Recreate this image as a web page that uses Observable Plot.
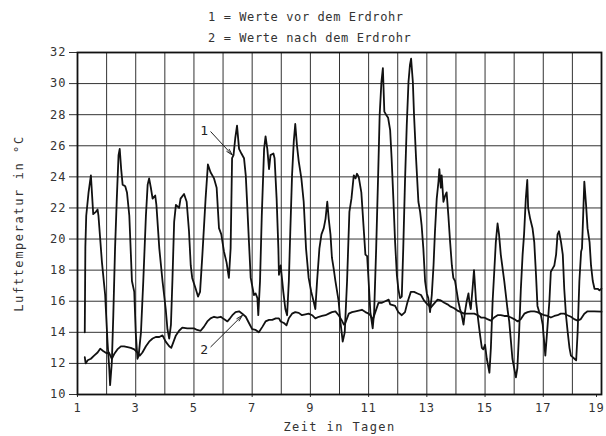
<!DOCTYPE html>
<html><head><meta charset="utf-8">
<script src="https://cdn.jsdelivr.net/npm/d3@7"></script>
<script src="https://cdn.jsdelivr.net/npm/@observablehq/plot@0.6"></script>
<style>
body{margin:0;background:#fff;}
#title{height:48px;box-sizing:border-box;padding:7px 0 0 208px;font:12px "DejaVu Sans Mono",monospace;line-height:21px;letter-spacing:0.6px;color:#333;white-space:pre;}
#chart svg [aria-label="y-axis label"] text{letter-spacing:1.6px;}
#chart svg [aria-label="x-axis label"] text{letter-spacing:1.4px;}
#chart svg [aria-label="y-axis tick label"] text,#chart svg [aria-label="x-axis tick label"] text{letter-spacing:1px;}
</style></head><body>
<div id="title"><div>1 = Werte vor dem Erdrohr</div><div>2 = Werte nach dem Erdrohr</div></div>
<div id="chart"></div>
<script>
// Series 1: Werte vor dem Erdrohr
const days1 = [1.25,1.27,1.30,1.38,1.46,1.54,1.63,1.69,1.72,1.84,1.95,2.03,2.09,2.12,2.18,2.23,2.29,2.35,2.41,2.45,2.50,2.55,2.64,2.70,2.78,2.87,2.95,3.00,3.06,3.10,3.18,3.26,3.35,3.41,3.46,3.52,3.58,3.67,3.71,3.81,3.92,4.03,4.09,4.15,4.21,4.26,4.32,4.38,4.49,4.54,4.66,4.75,4.83,4.89,4.94,5.06,5.14,5.21,5.29,5.40,5.48,5.57,5.69,5.78,5.86,5.94,6.03,6.12,6.20,6.26,6.31,6.36,6.42,6.48,6.55,6.63,6.72,6.78,6.83,6.89,6.95,7.00,7.06,7.12,7.18,7.21,7.27,7.33,7.41,7.46,7.52,7.58,7.63,7.73,7.77,7.84,7.90,7.92,7.98,8.07,8.14,8.20,8.26,8.31,8.37,8.43,8.48,8.54,8.60,8.69,8.77,8.85,8.94,9.03,9.11,9.17,9.23,9.31,9.38,9.46,9.52,9.58,9.63,9.69,9.74,9.80,9.86,9.97,10.03,10.11,10.18,10.26,10.34,10.41,10.49,10.55,10.60,10.66,10.75,10.83,10.89,10.95,11.00,11.06,11.14,11.19,11.26,11.33,11.38,11.44,11.49,11.54,11.60,11.67,11.74,11.79,11.85,11.91,11.97,12.02,12.08,12.14,12.19,12.25,12.31,12.37,12.42,12.46,12.52,12.56,12.63,12.71,12.77,12.82,12.88,12.94,13.00,13.05,13.11,13.17,13.23,13.28,13.34,13.40,13.43,13.48,13.51,13.57,13.63,13.68,13.74,13.80,13.86,13.91,13.97,14.03,14.08,14.14,14.20,14.26,14.31,14.37,14.43,14.46,14.51,14.57,14.62,14.69,14.77,14.83,14.89,14.94,15.00,15.06,15.12,15.15,15.20,15.26,15.31,15.37,15.43,15.48,15.54,15.66,15.77,15.83,15.89,15.94,16.00,16.06,16.11,16.17,16.23,16.29,16.34,16.40,16.45,16.48,16.55,16.63,16.69,16.75,16.80,16.86,16.92,16.98,17.03,17.07,17.13,17.21,17.26,17.32,17.38,17.44,17.49,17.54,17.61,17.67,17.72,17.78,17.84,17.90,17.95,18.01,18.07,18.13,18.18,18.24,18.30,18.33,18.37,18.41,18.47,18.52,18.59,18.64,18.70,18.76,18.82,18.87,18.93,19.00];
const temps1 = [14.0,19.5,21.5,23.0,24.1,21.6,21.75,21.9,21.5,18.5,16.4,13.4,11.7,10.6,12.1,15.1,19.4,22.6,25.4,25.8,24.5,23.5,23.4,23.0,21.5,17.3,16.6,14.0,12.3,12.5,14.0,17.3,21.5,23.5,23.9,23.3,22.6,22.8,22.2,19.4,17.3,15.5,14.2,13.6,14.5,17.3,21.1,22.2,22.0,22.6,22.9,22.4,20.5,18.3,17.5,16.8,16.3,16.6,19.0,22.6,24.8,24.3,23.9,23.3,20.7,20.3,19.2,18.5,17.5,19.4,25.2,25.4,26.5,27.3,25.8,25.5,25.2,24.1,22.2,19.8,17.5,17.0,16.4,16.5,16.2,15.1,17.3,21.5,25.8,26.6,25.8,24.5,25.4,25.5,25.2,22.6,19.4,17.7,18.3,16.6,15.5,15.1,17.3,20.5,24.1,26.3,27.4,26.0,25.0,23.9,22.4,19.4,17.5,16.6,16.0,15.5,17.3,19.4,20.3,20.7,21.3,22.4,21.3,20.3,18.8,18.1,17.3,16.0,14.7,13.4,14.0,17.3,21.75,22.6,24.1,23.9,24.2,24.0,23.0,20.7,19.0,18.9,17.3,15.3,14.25,15.3,19.4,24.3,28.0,30.1,31.0,28.2,28.0,27.8,27.0,25.2,22.6,19.8,17.7,16.8,16.2,16.3,19.4,23.7,27.3,30.1,31.2,31.6,30.1,28.0,25.2,22.4,21.75,20.9,19.4,17.3,16.5,16.2,15.3,16.4,18.3,20.5,22.6,23.7,24.5,23.3,24.1,22.4,22.8,23.0,21.5,19.8,18.3,17.5,17.3,16.6,16.0,15.5,15.1,14.5,15.3,16.0,16.5,16.0,15.5,16.8,18.0,16.0,14.7,13.8,13.0,12.9,13.2,12.3,11.7,11.4,13.0,16.0,17.7,19.8,21.0,20.3,19.0,17.3,15.5,14.7,13.4,12.3,11.7,11.1,11.7,14.0,16.8,19.0,20.3,22.6,23.8,22.0,21.3,20.7,19.8,17.7,15.7,15.3,15.1,14.5,13.4,12.5,14.0,16.0,17.9,18.1,18.3,19.0,20.3,20.5,19.8,19.0,16.8,15.1,14.0,13.0,12.5,12.4,12.3,12.2,14.0,17.3,19.2,19.4,21.5,23.7,22.2,20.7,19.8,18.3,17.3,16.8,16.8,16.8,16.7,16.8];
// Series 2: Werte nach dem Erdrohr
const days2 = [1.25,1.28,1.35,1.46,1.57,1.69,1.78,1.88,2.00,2.08,2.18,2.26,2.37,2.49,2.60,2.72,2.83,2.95,3.06,3.14,3.23,3.35,3.46,3.58,3.69,3.81,3.92,4.03,4.15,4.22,4.30,4.38,4.49,4.60,4.77,5.00,5.11,5.23,5.34,5.46,5.57,5.69,5.80,5.92,6.03,6.15,6.24,6.32,6.43,6.55,6.66,6.78,6.89,7.00,7.12,7.23,7.35,7.46,7.58,7.69,7.81,7.92,7.98,8.09,8.18,8.26,8.37,8.48,8.60,8.71,8.83,8.94,9.06,9.17,9.29,9.40,9.52,9.63,9.74,9.86,9.97,10.07,10.15,10.20,10.32,10.43,10.55,10.66,10.77,10.89,11.00,11.06,11.14,11.23,11.34,11.46,11.57,11.69,11.74,11.83,11.91,12.02,12.14,12.25,12.33,12.45,12.56,12.68,12.80,12.90,13.02,13.14,13.25,13.37,13.48,13.60,13.71,13.82,13.94,14.05,14.17,14.28,14.40,14.51,14.63,14.75,14.86,14.97,15.08,15.20,15.31,15.43,15.54,15.66,15.77,15.89,16.00,16.12,16.23,16.35,16.46,16.57,16.69,16.80,16.91,17.03,17.15,17.26,17.38,17.49,17.60,17.72,17.83,17.95,18.06,18.18,18.29,18.41,18.52,18.75,19.00];
const temps2 = [12.4,12.0,12.2,12.3,12.5,12.7,12.95,12.8,12.65,12.7,12.3,12.6,12.9,13.1,13.1,13.05,13.0,12.9,12.7,12.5,12.7,13.1,13.4,13.6,13.7,13.7,13.8,13.4,13.1,13.0,13.4,13.8,14.1,14.3,14.25,14.25,14.15,14.1,14.35,14.7,14.9,15.0,14.95,15.0,14.85,14.7,14.9,15.1,15.3,15.35,15.2,15.0,14.6,14.2,14.15,14.0,14.35,14.7,14.8,14.8,14.9,14.9,14.7,14.6,14.45,14.9,15.2,15.3,15.25,15.1,15.15,15.2,15.1,14.9,15.0,15.05,15.1,15.2,15.3,15.35,15.1,14.8,14.5,14.6,15.2,15.3,15.35,15.4,15.45,15.3,15.2,15.1,14.8,15.3,15.9,15.9,16.0,16.1,15.8,15.75,15.7,15.3,15.1,15.3,15.9,16.6,16.6,16.5,16.4,16.05,15.8,15.6,15.85,16.1,16.05,15.9,15.8,15.65,15.55,15.4,15.3,15.2,15.2,15.2,15.2,15.1,14.95,14.95,14.85,14.75,14.95,15.1,15.1,15.05,15.05,14.95,14.85,14.7,14.85,15.2,15.3,15.35,15.35,15.3,15.2,15.1,15.05,14.95,15.05,15.1,15.2,15.2,15.1,15.0,14.85,14.75,14.85,15.2,15.35,15.35,15.33];
// Axis ticks
const gridDays = d3.range(1, 20);
const dayTicks = [1,3,5,7,9,11,13,15,17];
const lastDayTick = [19];
const tempTicks = [10,12,14,16,18,20,22,24,26,28,30,32];
// Annotations (labels with arrows)
const annLabels = ["1", "2"];
const annTextX = [5.35, 5.35];
const annTextY = [26.95, 12.85];
const annFromX = [5.58, 5.58];
const annFromY = [26.9, 13.07];
const annToX = [6.32, 6.67];
const annToY = [25.4, 15.1];

const series1 = days1.map((d, i) => ({day: d, temp: temps1[i]}));
const series2 = days2.map((d, i) => ({day: d, temp: temps2[i]}));
const ann = annLabels.map((t, i) => ({t, tx: annTextX[i], ty: annTextY[i], x1: annFromX[i], y1: annFromY[i], x2: annToX[i], y2: annToY[i]}));

const plot = Plot.plot({
  width: 606, height: 388,
  marginTop: 4, marginBottom: 42, marginLeft: 77, marginRight: 5,
  style: {fontFamily: '"DejaVu Sans Mono", monospace', fontSize: "12px", overflow: "visible", color: "#333", background: "white"},
  x: {domain: [1, 19]},
  y: {domain: [10, 32]},
  marks: [
    Plot.gridX(gridDays, {stroke: "#333", strokeOpacity: 1, strokeWidth: 1}),
    Plot.gridY(tempTicks, {stroke: "#333", strokeOpacity: 1, strokeWidth: 1}),
    Plot.axisX(dayTicks, {tickSize: 3, tickPadding: 6, label: "Zeit in Tagen", labelAnchor: "center", labelArrow: "none", labelOffset: 36}),
    Plot.axisX(lastDayTick, {tickSize: 3, tickPadding: 6, dx: -5, label: null}),
    Plot.axisY(tempTicks, {tickSize: 8, tickPadding: 3, label: "Lufttemperatur in °C", labelAnchor: "center", labelArrow: "none", labelOffset: 63}),
    Plot.frame({stroke: "#111", strokeWidth: 1.8}),
    Plot.line(series2, {x: "day", y: "temp", stroke: "#111", strokeWidth: 1.8}),
    Plot.line(series1, {x: "day", y: "temp", stroke: "#111", strokeWidth: 1.8}),
    Plot.arrow(ann, {x1: "x1", y1: "y1", x2: "x2", y2: "y2", stroke: "#222", strokeWidth: 1, headLength: 10, headAngle: 28}),
    Plot.text(ann, {x: "tx", y: "ty", text: "t", fontSize: 13, fill: "#222"})
  ]
});
document.getElementById("chart").appendChild(plot);
</script>
</body></html>
